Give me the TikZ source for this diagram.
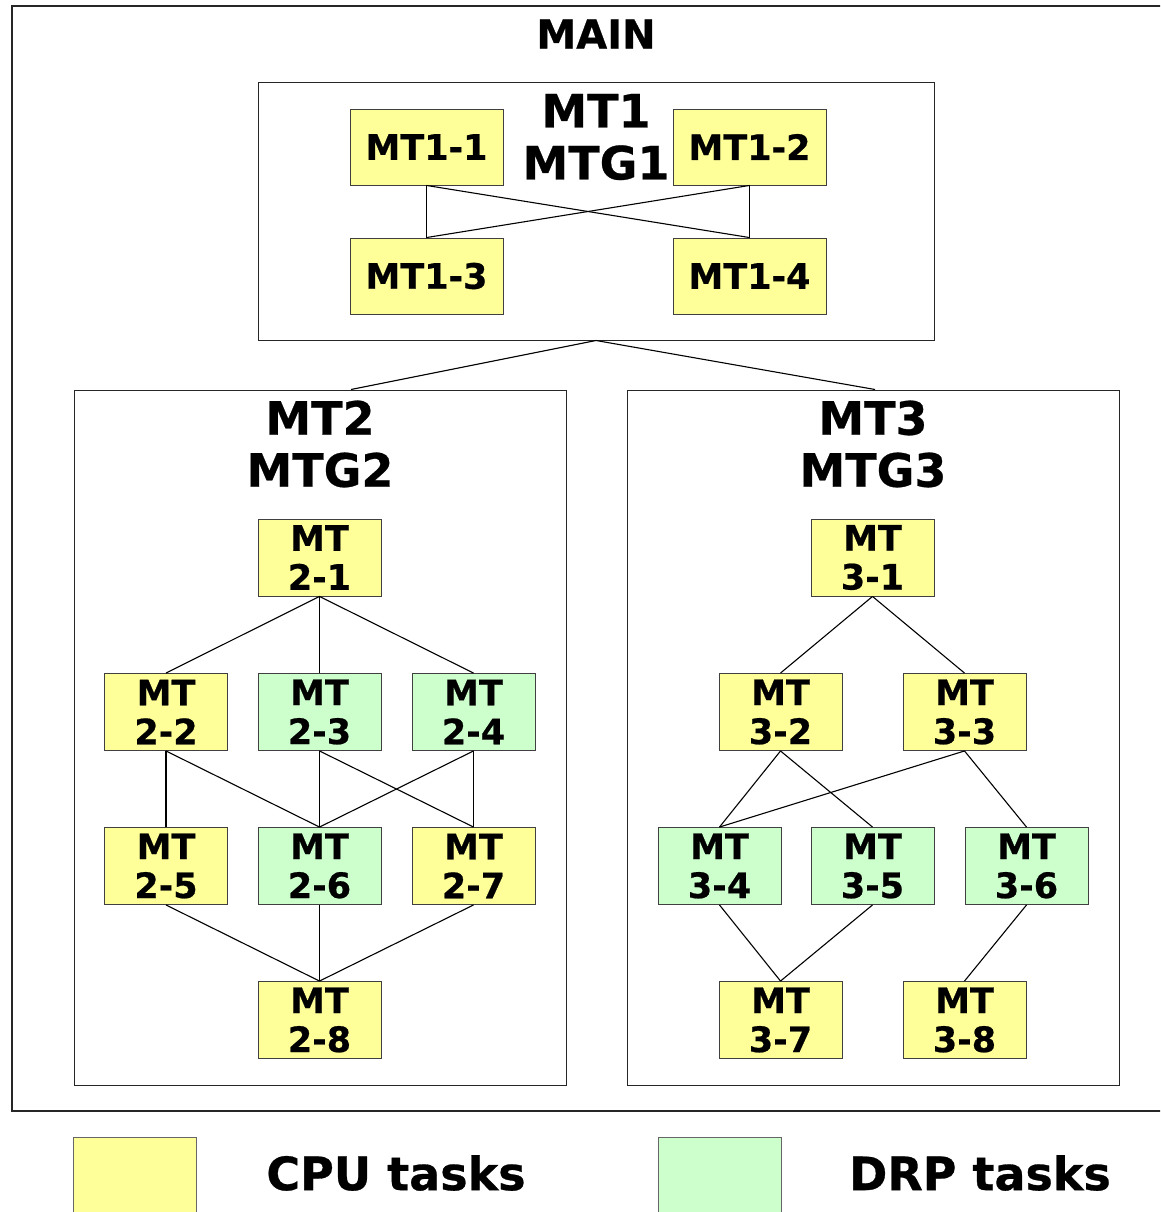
\documentclass[tikz,border=0pt]{standalone}
\usepackage{fontspec}
\setmainfont{DejaVu Sans}[BoldFeatures={FakeBold=0.6}]
\definecolor{cpuyellow}{HTML}{FFFF99}
\definecolor{drpgreen}{HTML}{CCFFCC}
\begin{document}
\begin{tikzpicture}[x=1pt,y=-1pt,
  group/.style={draw=black!85, line width=1pt, inner sep=0pt},
  heading/.style={align=center, inner sep=0pt, font=\fontsize{46}{52}\selectfont\bfseries},
  task/.style={draw=black!75, line width=0.9pt, minimum width=123pt, minimum height=77pt,
    inner sep=0pt, align=center, font=\fontsize{35}{39}\selectfont\bfseries},
  wide/.style={minimum width=153pt, minimum height=76pt},
  cpu/.style={task, fill=cpuyellow},
  drp/.style={task, fill=drpgreen},
  link/.style={line width=1.1pt},
  legendbox/.style={draw=black!60, line width=0.9pt, minimum width=123pt, minimum height=90pt, inner sep=0pt, anchor=north west},
  legendtext/.style={inner sep=0pt, font=\fontsize{46}{52}\selectfont\bfseries}
]
\useasboundingbox (0,0) rectangle (1160,1212);
\clip (0,0) rectangle (1160,1212);

% outer frame
\draw[draw=black!85, line width=1.1pt] (12,6) rectangle (1175,1111);
\node[inner sep=0pt, font=\fontsize{40}{46}\selectfont\bfseries] (main) at (596,34) {MAIN};

% group boxes
\node[group, minimum width=676pt, minimum height=257pt] (g1) at (596,211.5) {};
\node[group, minimum width=492pt, minimum height=695pt] (g2) at (320,737.5) {};
\node[group, minimum width=492pt, minimum height=695pt] (g3) at (873,737.5) {};

\node[heading] (h1) at (596,137) {MT1\\MTG1};
\node[heading] (h2) at (320,444) {MT2\\MTG2};
\node[heading] (h3) at (873,444) {MT3\\MTG3};

\draw[link] (g1.south) -- ([xshift=31pt]g2.north);
\draw[link] (g1.south) -- ([xshift=2pt]g3.north);

% MTG1
\node[cpu, wide] (t11) at (426.5,147) {MT1-1};
\node[cpu, wide] (t12) at (749.5,147) {MT1-2};
\node[cpu, wide] (t13) at (426.5,276) {MT1-3};
\node[cpu, wide] (t14) at (749.5,276) {MT1-4};
\draw[link] (t11.south) -- (t13.north);
\draw[link] (t11.south) -- (t14.north);
\draw[link] (t12.south) -- (t13.north);
\draw[link] (t12.south) -- (t14.north);

% MTG2
\node[cpu] (t21) at (319.5,557.5) {MT\\2-1};
\node[cpu] (t22) at (166,712) {MT\\2-2};
\node[drp] (t23) at (319.5,712) {MT\\2-3};
\node[drp] (t24) at (473.5,712) {MT\\2-4};
\node[cpu] (t25) at (166,866) {MT\\2-5};
\node[drp] (t26) at (319.5,866) {MT\\2-6};
\node[cpu] (t27) at (473.5,866) {MT\\2-7};
\node[cpu] (t28) at (319.5,1020) {MT\\2-8};
\foreach \a/\b in {t21/t22,t21/t23,t21/t24,t22/t25,t22/t26,t23/t26,t23/t27,t24/t26,t24/t27,t25/t28,t26/t28,t27/t28}
  \draw[link] (\a.south) -- (\b.north);

% MTG3
\node[cpu] (t31) at (872.5,557.5) {MT\\3-1};
\node[cpu] (t32) at (780.5,712) {MT\\3-2};
\node[cpu] (t33) at (964.5,712) {MT\\3-3};
\node[drp] (t34) at (719.5,866) {MT\\3-4};
\node[drp] (t35) at (872.5,866) {MT\\3-5};
\node[drp] (t36) at (1026.5,866) {MT\\3-6};
\node[cpu] (t37) at (780.5,1020) {MT\\3-7};
\node[cpu] (t38) at (964.5,1020) {MT\\3-8};
\foreach \a/\b in {t31/t32,t31/t33,t32/t34,t32/t35,t33/t34,t33/t36,t34/t37,t35/t37,t36/t38}
  \draw[link] (\a.south) -- (\b.north);

% legend
\node[legendbox, fill=cpuyellow] (lcpu) at (73,1137) {};
\node[legendbox, fill=drpgreen] (ldrp) at (658,1137) {};
\node[legendtext] (lcput) at (396,1173) {CPU tasks};
\node[legendtext] (ldrpt) at (980,1173) {DRP tasks};
\end{tikzpicture}
\end{document}
